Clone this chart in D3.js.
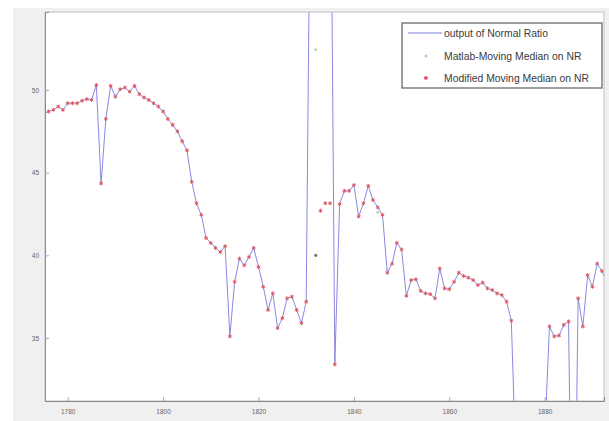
<!DOCTYPE html>
<html>
<head>
<meta charset="utf-8">
<script src="https://cdn.jsdelivr.net/npm/d3@7"></script>
<style>
  body { margin: 0; background: #fff; }
  svg { display: block; }
</style>
</head>
<body>
<svg id="chart" width="609" height="421"></svg>
<script>
// x values (one reading per unit)
const years = [
  1775, 1776, 1777, 1778, 1779, 1780, 1781, 1782, 1783, 1784,
  1785, 1786, 1787, 1788, 1789, 1790, 1791, 1792, 1793, 1794,
  1795, 1796, 1797, 1798, 1799, 1800, 1801, 1802, 1803, 1804,
  1805, 1806, 1807, 1808, 1809, 1810, 1811, 1812, 1813, 1814,
  1815, 1816, 1817, 1818, 1819, 1820, 1821, 1822, 1823, 1824,
  1825, 1826, 1827, 1828, 1829, 1830, 1831, 1832, 1833, 1834,
  1835, 1836, 1837, 1838, 1839, 1840, 1841, 1842, 1843, 1844,
  1845, 1846, 1847, 1848, 1849, 1850, 1851, 1852, 1853, 1854,
  1855, 1856, 1857, 1858, 1859, 1860, 1861, 1862, 1863, 1864,
  1865, 1866, 1867, 1868, 1869, 1870, 1871, 1872, 1873, 1874,
  1875, 1876, 1877, 1878, 1879, 1880, 1881, 1882, 1883, 1884,
  1885, 1886, 1887, 1888, 1889, 1890, 1891, 1892, 1893
];

// output of Normal Ratio (line)
const normalRatio = [
  48.6, 48.7, 48.8, 49.0, 48.8, 49.2, 49.2, 49.2, 49.35, 49.45,
  49.4, 50.3, 44.35, 48.25, 50.25, 49.6, 50.05, 50.15, 49.9, 50.25,
  49.75, 49.55, 49.4, 49.2, 49.0, 48.7, 48.25, 47.9, 47.5, 46.9,
  46.35, 44.45, 43.15, 42.45, 41.05, 40.75, 40.45, 40.2, 40.55, 35.1,
  38.4, 39.8, 39.4, 39.9, 40.45, 39.3, 38.1, 36.7, 37.7, 35.6,
  36.2, 37.4, 37.5, 36.7, 35.9, 37.2, 68, 72, 75, 73,
  70, 33.4, 43.1, 43.9, 43.9, 44.25, 42.35, 43.15, 44.2, 43.35,
  42.9, 42.45, 38.95, 39.5, 40.75, 40.35, 37.55, 38.5, 38.55, 37.85,
  37.7, 37.65, 37.4, 39.2, 38.0, 37.95, 38.4, 38.95, 38.75, 38.65,
  38.5, 38.2, 38.35, 38.0, 37.9, 37.7, 37.6, 37.2, 36.05, 27,
  22, 20, 21, 24, 26, 29, 35.7, 35.1, 35.15, 35.8,
  36.0, 15, 37.4, 35.7, 38.8, 38.1, 39.5, 39.05, 38.4
];

// Matlab-Moving Median on NR (dots)
const matlabMedian = [
  48.6, 48.7, 48.8, 49.0, 48.8, 49.2, 49.2, 49.2, 49.35, 49.45,
  49.4, 50.3, 44.35, 48.25, 50.25, 49.6, 50.05, 50.15, 49.9, 50.25,
  49.75, 49.55, 49.4, 49.2, 49.0, 48.7, 48.25, 47.9, 47.5, 46.9,
  46.35, 44.45, 43.15, 42.45, 41.05, 40.75, 40.45, 40.2, 40.55, 35.1,
  38.4, 39.8, 39.4, 39.9, 40.45, 39.3, 38.1, 36.7, 37.7, 35.6,
  36.2, 37.4, 37.5, 36.7, 35.9, 37.2, null, 52.45, 42.7, 43.15,
  43.15, 33.4, 43.1, 43.9, 43.9, 44.25, 42.35, 43.15, 44.2, 43.35,
  42.6, 42.45, 38.95, 39.5, 40.75, 40.35, 37.55, 38.5, 38.55, 37.85,
  37.7, 37.65, 37.4, 39.2, 38.0, 37.95, 38.4, 38.95, 38.75, 38.65,
  38.5, 38.2, 38.35, 38.0, 37.9, 37.7, 37.6, 37.2, 36.05, null,
  null, null, null, null, null, null, 35.7, 35.1, 35.15, 35.8,
  36.0, null, 37.4, 35.7, 38.8, 38.1, 39.5, 39.05, 38.4
];

// Modified Moving Median on NR (stars)
const modifiedMedian = [
  48.6, 48.7, 48.8, 49.0, 48.8, 49.2, 49.2, 49.2, 49.35, 49.45,
  49.4, 50.3, 44.35, 48.25, 50.25, 49.6, 50.05, 50.15, 49.9, 50.25,
  49.75, 49.55, 49.4, 49.2, 49.0, 48.7, 48.25, 47.9, 47.5, 46.9,
  46.35, 44.45, 43.15, 42.45, 41.05, 40.75, 40.45, 40.2, 40.55, 35.1,
  38.4, 39.8, 39.4, 39.9, 40.45, 39.3, 38.1, 36.7, 37.7, 35.6,
  36.2, 37.4, 37.5, 36.7, 35.9, 37.2, null, null, 42.7, 43.15,
  43.15, 33.4, 43.1, 43.9, 43.9, 44.25, 42.35, 43.15, 44.2, 43.35,
  42.9, 42.45, 38.95, 39.5, 40.75, 40.35, 37.55, 38.5, 38.55, 37.85,
  37.7, 37.65, 37.4, 39.2, 38.0, 37.95, 38.4, 38.95, 38.75, 38.65,
  38.5, 38.2, 38.35, 38.0, 37.9, 37.7, 37.6, 37.2, 36.05, null,
  null, null, null, null, null, null, 35.7, 35.1, 35.15, 35.8,
  36.0, null, 37.4, 35.7, 38.8, 38.1, 39.5, 39.05, 38.4
];

// lone dark dot in the gap
const strayYears = [1832];
const strayValues = [40.0];

const xTicks = [1780, 1800, 1820, 1840, 1860, 1880];
const yTicks = [35, 40, 45, 50];
const legendLabels = ["output of Normal Ratio", "Matlab-Moving Median on NR", "Modified Moving Median on NR"];

var svg = d3.select("#chart");

var plotLeft = 45, plotRight = 604, plotTop = 12, plotBottom = 401;
var lineColor = "#7c7ce0";
var starColor = "#e8405a";
var dotColor = "#b4d9a4";

// figure background
svg.append("rect")
  .attr("x", 13).attr("y", 8)
  .attr("width", 609 - 13).attr("height", 421 - 8)
  .attr("fill", "#f0f0f0");

svg.append("rect")
  .attr("x", plotLeft).attr("y", plotTop)
  .attr("width", plotRight - plotLeft).attr("height", plotBottom - plotTop)
  .attr("fill", "#fff");

var xScale = d3.scaleLinear()
  .domain([1775.24, 1892.43])
  .range([plotLeft, plotRight]);

var yScale = d3.scaleLinear()
  .domain([31.19, 54.72])
  .range([plotBottom, plotTop]);

svg.append("clipPath").attr("id", "plotClip")
  .append("rect")
  .attr("x", plotLeft).attr("y", plotTop)
  .attr("width", plotRight - plotLeft).attr("height", plotBottom - plotTop);

var plot = svg.append("g").attr("clip-path", "url(#plotClip)");

var rows = years.map(function(y, i) {
  return { year: y, nr: normalRatio[i], mm: matlabMedian[i], mod: modifiedMedian[i] };
});

var line = d3.line()
  .defined(function(d) { return d.nr != null; })
  .x(function(d) { return xScale(d.year); })
  .y(function(d) { return yScale(d.nr); });

plot.append("path")
  .datum(rows)
  .attr("d", line)
  .attr("fill", "none")
  .attr("stroke", lineColor)
  .attr("stroke-width", 0.9);

plot.selectAll(".mm")
  .data(rows.filter(function(d) { return d.mm != null; }))
  .enter().append("circle")
  .attr("class", "mm")
  .attr("cx", function(d) { return xScale(d.year); })
  .attr("cy", function(d) { return yScale(d.mm); })
  .attr("r", 1.4)
  .attr("fill", dotColor);

plot.selectAll(".stray")
  .data(strayYears)
  .enter().append("circle")
  .attr("class", "stray")
  .attr("cx", function(d) { return xScale(d); })
  .attr("cy", function(d, i) { return yScale(strayValues[i]); })
  .attr("r", 1.6)
  .attr("fill", "#777");

var star = d3.symbol().type(d3.symbolAsterisk || d3.symbolCross).size(12);

plot.selectAll(".mod")
  .data(rows.filter(function(d) { return d.mod != null; }))
  .enter().append("path")
  .attr("class", "mod")
  .attr("transform", function(d) { return "translate(" + xScale(d.year) + "," + yScale(d.mod) + ")"; })
  .attr("d", star)
  .attr("fill", "none")
  .attr("stroke", starColor)
  .attr("stroke-width", 1)
  .attr("opacity", 0.8);

// box
svg.append("rect")
  .attr("x", plotLeft).attr("y", plotTop)
  .attr("width", plotRight - plotLeft).attr("height", plotBottom - plotTop)
  .attr("fill", "none")
  .attr("stroke", "#c0c0c0");

// axes, MATLAB style ticks pointing inward
var xAxis = d3.axisBottom(xScale).tickValues(xTicks).tickSize(-4).tickPadding(8).tickFormat(d3.format("d"));
var yAxis = d3.axisLeft(yScale).tickValues(yTicks).tickSize(-4).tickPadding(6);

var gx = svg.append("g").attr("transform", "translate(0," + plotBottom + ")").call(xAxis);
var gy = svg.append("g").attr("transform", "translate(" + plotLeft + ",0)").call(yAxis);

[gx, gy].forEach(function(g) {
  g.select(".domain").attr("stroke", "#8a8a8a");
  g.selectAll(".tick line").attr("stroke", "#aaa");
  g.selectAll(".tick text")
    .attr("fill", "#666")
    .style("font-family", "'Liberation Sans', Arial, sans-serif")
    .style("font-size", "6.5px");
});

// legend
var legend = svg.append("g");
legend.append("rect")
  .attr("x", 402).attr("y", 23)
  .attr("width", 200).attr("height", 65)
  .attr("fill", "#fff")
  .attr("stroke", "#6a6a6a")
  .attr("stroke-width", 1.3);

var rowY = [33, 56, 78];

legend.append("line")
  .attr("x1", 408).attr("x2", 442)
  .attr("y1", rowY[0]).attr("y2", rowY[0])
  .attr("stroke", lineColor).attr("stroke-width", 1.2);

legend.append("circle")
  .attr("cx", 426).attr("cy", rowY[1]).attr("r", 1.6)
  .attr("fill", dotColor);

legend.append("path")
  .attr("transform", "translate(426," + rowY[2] + ")")
  .attr("d", star)
  .attr("fill", "none")
  .attr("stroke", starColor)
  .attr("stroke-width", 1.1);

legend.selectAll(".lab")
  .data(legendLabels)
  .enter().append("text")
  .attr("class", "lab")
  .attr("x", 444)
  .attr("y", function(d, i) { return rowY[i]; })
  .attr("dy", "0.35em")
  .attr("fill", "#3a3a3a")
  .style("font-family", "'Liberation Sans', Arial, sans-serif")
  .style("font-size", "10.4px")
  .text(function(d) { return d; });
</script>
</body>
</html>
